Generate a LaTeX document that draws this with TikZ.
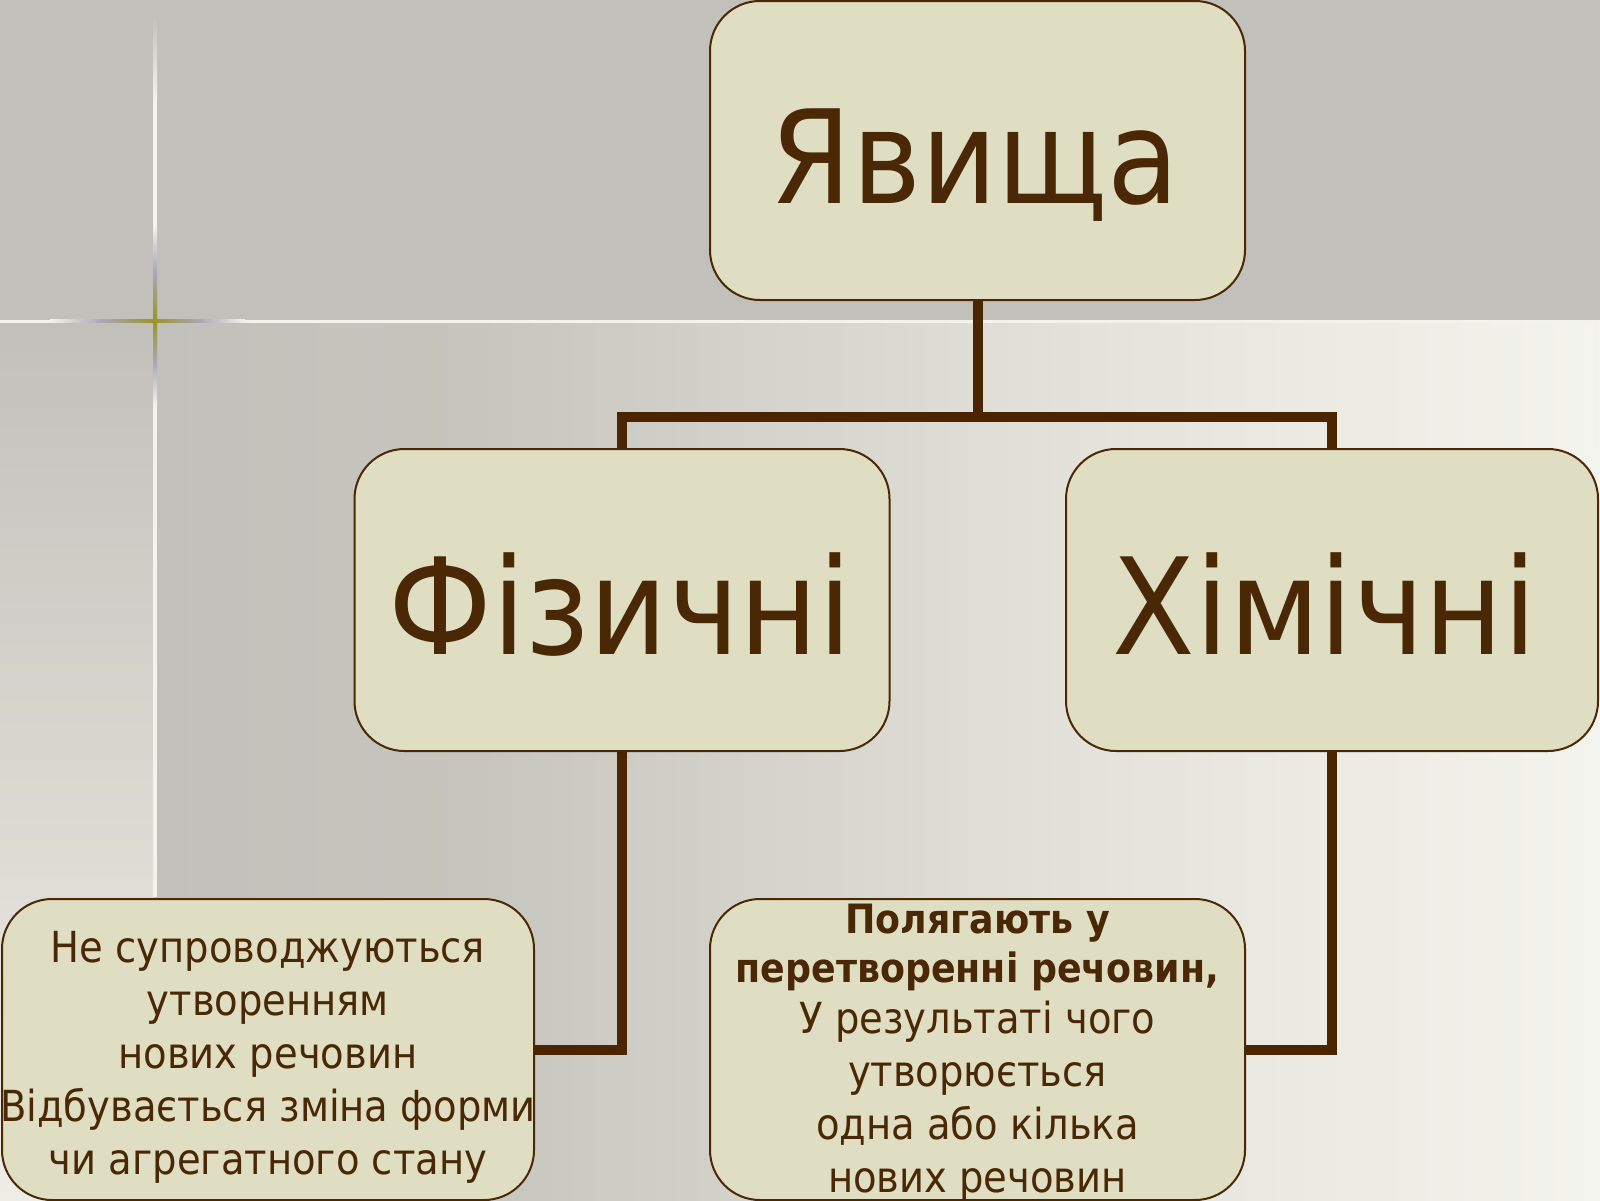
\documentclass[tikz,border=0pt]{standalone}
\usepackage{fontspec}
\setmainfont{DejaVu Sans Condensed}
\definecolor{bggray}{HTML}{C1C0BA}
\definecolor{stripbot}{HTML}{EEEDE6}
\definecolor{bgtwo}{HTML}{C6C5BE}
\definecolor{bgthree}{HTML}{E2E1D9}
\definecolor{bgfour}{HTML}{F4F4EE}
\definecolor{boxfill}{HTML}{E0DEC2}
\definecolor{brn}{HTML}{4A2805}
\definecolor{linkbrn}{HTML}{4B2500}
\definecolor{linewhite}{HTML}{F3F2EC}
\definecolor{crossblue}{HTML}{A6A8B6}
\definecolor{crossolive}{HTML}{9C9424}
\begin{document}
\begin{tikzpicture}[x=0.5pt,y=-0.5pt,
  box/.style={draw=brn, line width=1pt, fill=boxfill, rounded corners=25pt, inner sep=0pt},
  bigtext/.style={text=brn, inner sep=0pt, anchor=base, font=\fontsize{#1}{#1}\selectfont},
  smalltext/.style={text=brn, inner sep=0pt, align=center, font=\fontsize{21.4}{26.5}\selectfont},
  link/.style={draw=linkbrn, line width=5pt},
  ]
\useasboundingbox (0,0) rectangle (1600,1200);
% background
\fill[bggray] (0,0) rectangle (1600,321);
\shade[top color=bggray, bottom color=stripbot] (0,321) rectangle (154,1200);
\shade[left color=bggray, right color=bgtwo] (154,321) rectangle (480,1200);
\shade[left color=bgtwo, right color=bgfour, middle color=bgthree] (480,321) rectangle (1600,1200);
% cross lines
\fill[linewhite] (0,319.5) rectangle (1600,322.5);
\fill[linewhite] (153,99) rectangle (157,897);
\shade[top color=bggray, bottom color=linewhite] (153,15) rectangle (157,100);
\shade[left color=linewhite, right color=crossolive, middle color=crossblue] (50,319.5) rectangle (155,322.5);
\shade[left color=crossolive, right color=linewhite, middle color=crossblue] (155,319.5) rectangle (245,322.5);
\shade[top color=linewhite, bottom color=crossolive, middle color=crossblue] (153,225) rectangle (157,321);
\shade[top color=crossolive, bottom color=linewhite, middle color=crossblue] (153,321) rectangle (157,405);
\fill[linewhite, opacity=0.6] (1595,322) rectangle (1598,450);
% boxes
\node[box, minimum width=267.5pt, minimum height=149.5pt] (yav) at (977.5,150.5) {};
\node[box, minimum width=267.5pt, minimum height=151pt] (fiz) at (622,600) {};
\node[box, minimum width=266pt, minimum height=151pt] (him) at (1332,600) {};
\node[box, minimum width=266pt, minimum height=150.5pt] (ne) at (268,1049.5) {};
\node[box, minimum width=267.5pt, minimum height=150.5pt] (pol) at (977.5,1049.5) {};
% connectors
\coordinate (j) at (977.5,416.5);
\draw[link] (yav.south) -- (j);
\draw[link] (fiz.north) |- (j) -| (him.north);
\draw[link] (fiz.south) |- (ne.east);
\draw[link] (him.south) |- (pol.east);
% texts
\node[bigtext=65] (tyav) at (975,203) {Явища};
\node[bigtext=67] (tfiz) at (620,654) {Фізичні};
\node[bigtext=67] (thim) at (1325,654) {Хімічні};
\node[smalltext] (tne) at (268,1057) {Не супроводжуються\\утворенням\\нових речовин\\Відбувається зміна форми\\чи агрегатного стану};
\node[smalltext] (tpol) at (977.5,1053) {{\fontsize{20.2}{24.5}\selectfont\bfseries Полягають у}\\[-2pt]{\fontsize{20.2}{24.5}\selectfont\bfseries перетворенні речовин,}\\[-1pt]У результаті чого\\утворюється\\одна або кілька\\нових речовин};
\end{tikzpicture}
\end{document}
